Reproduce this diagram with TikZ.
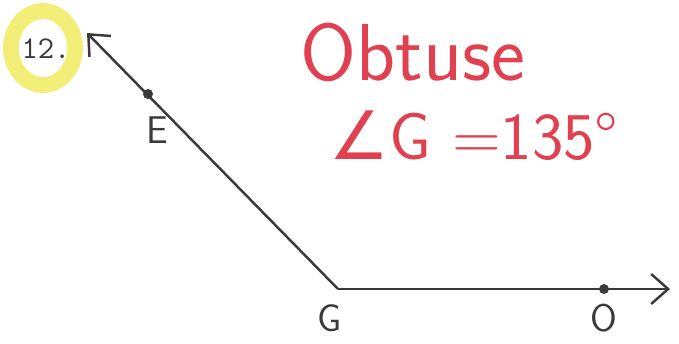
\documentclass[tikz,border=0pt]{standalone}
\usepackage{fontspec}
\usetikzlibrary{positioning, arrows.meta}
\newfontfamily\symfont{DejaVu Sans}
\definecolor{ink}{HTML}{3a3a3a}
\definecolor{pen}{HTML}{e0404f}
\definecolor{marker}{HTML}{f1ef78}

\begin{document}
\begin{tikzpicture}[x=0.02cm, y=-0.02cm, font=\sffamily,
    ray/.style={ink, line width=1.4pt, -{Straight Barb[length=3.4mm, width=6mm, line width=1.4pt]}},
    dot/.style={circle, fill=ink, inner sep=0pt, minimum size=2mm},
    ptlabel/.style={ink, font=\sffamily\fontsize{22}{24}\selectfont}]
  \useasboundingbox (0,0) rectangle (679,343);

  % Problem number
  \draw[marker, line width=9pt] (43,48) ellipse (32 and 37);
  \node[ink, font=\ttfamily\fontsize{18}{20}\selectfont] (num) at (46,49) {12.};

  % Angle
  \coordinate (G) at (338,289);
  \coordinate (tipE) at (87,33);
  \coordinate (tipO) at (670,289);
  \node[dot] (E) at (148,94) {};
  \node[dot] (O) at (604,289) {};
  \draw[ray] (G) -- (tipE);
  \draw[ray] (G) -- (tipO);

  % Labels
  \node[ptlabel] (labE) at (157,130) {E};
  \node[ptlabel] (labG) at (330,318) {G};
  \node[ptlabel] (labO) at (604,318) {O};

  % Answer
  \node[pen, font=\sffamily\fontsize{46}{50}\selectfont] (kind) at (413,52) {Obtuse};
  \node[pen, font=\sffamily\fontsize{38}{42}\selectfont] (meas) at (474,136) {{\symfont ∠}G =135°};
\end{tikzpicture}
\end{document}
